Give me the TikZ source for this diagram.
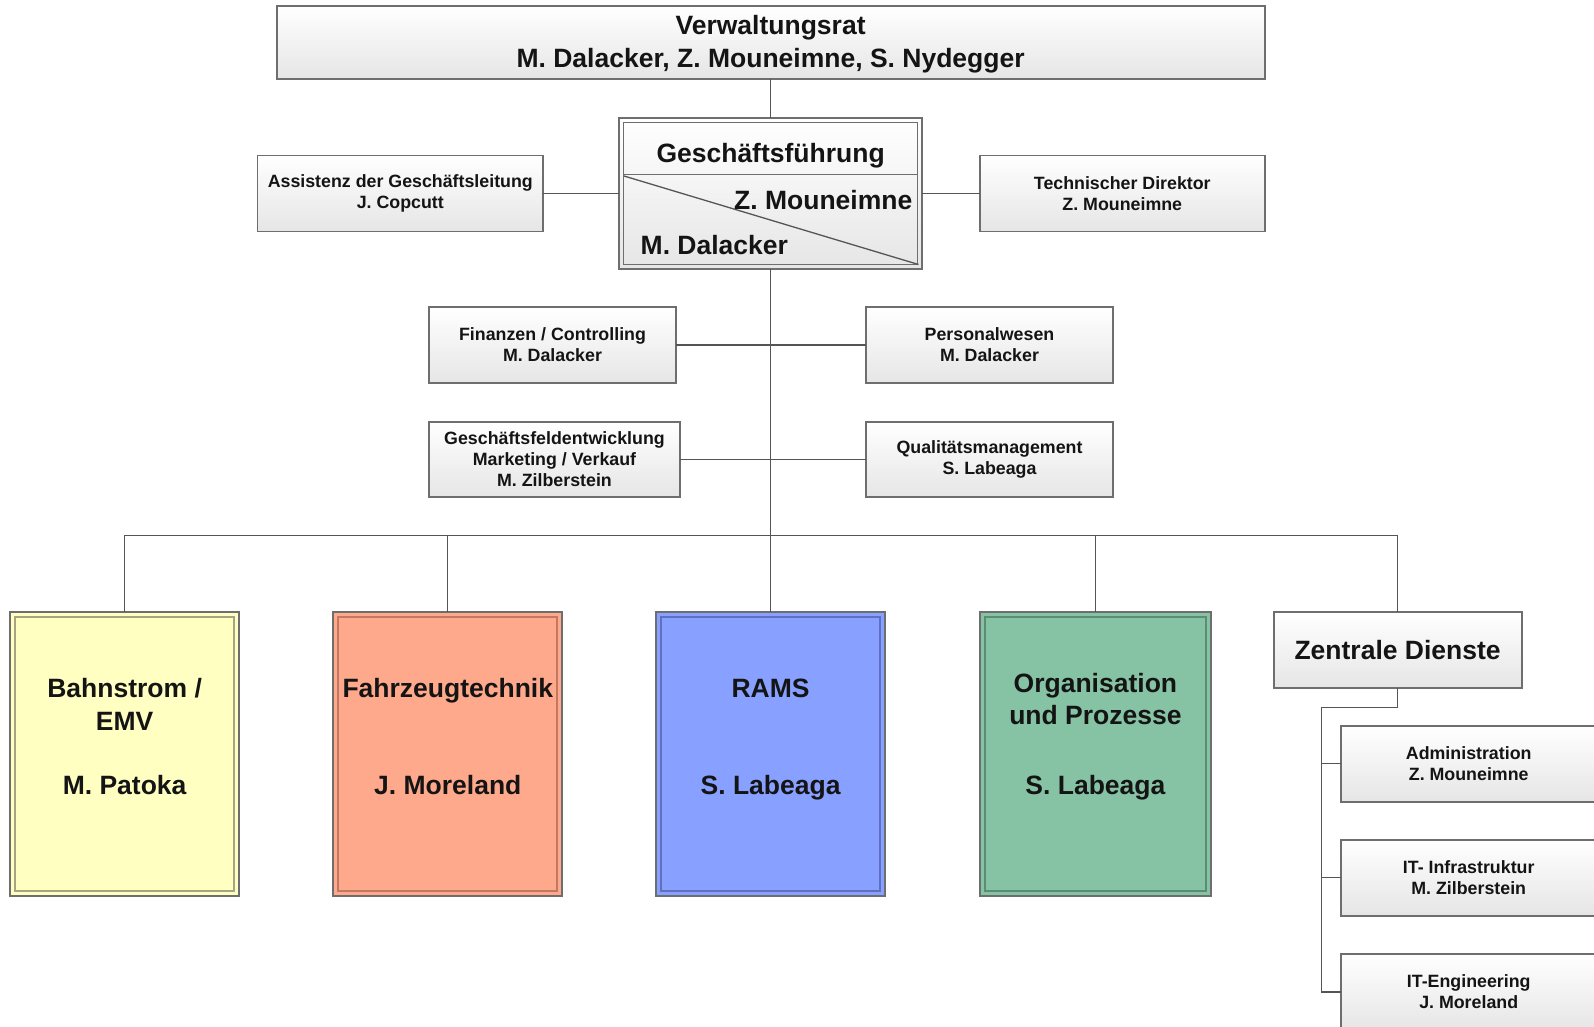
\documentclass[tikz,border=0pt]{standalone}
\usepackage{fontspec}
\setmainfont{Liberation Sans}
\definecolor{bordergray}{RGB}{110,110,110}
\definecolor{linegray}{RGB}{85,85,85}
\definecolor{txt}{RGB}{20,20,20}
\definecolor{yelfill}{RGB}{255,255,194}
\definecolor{yelline}{RGB}{165,165,130}
\definecolor{salfill}{RGB}{255,169,140}
\definecolor{salline}{RGB}{195,120,100}
\definecolor{blufill}{RGB}{136,160,255}
\definecolor{bluline}{RGB}{95,112,190}
\definecolor{grnfill}{RGB}{134,194,164}
\definecolor{grnline}{RGB}{92,140,115}
\newcommand\smallfnt{\fontsize{17.8}{21}\selectfont\bfseries}
\newcommand\bigfnt{\fontsize{26.5}{32.5}\selectfont\bfseries}
\begin{document}
\begin{tikzpicture}[x=1pt,y=-1pt,
  graybox/.style={draw=bordergray, line width=1.8pt, top color=white, bottom color=black!10,
    inner sep=0pt, outer sep=0pt, align=center, text=txt, font=\smallfnt},
  bigbox/.style={graybox, font=\bigfnt},
  colbox/.style={draw=bordergray, line width=1.8pt, inner sep=0pt, outer sep=0pt,
    minimum width=229pt, minimum height=284pt},
  innerline/.style={line width=1.8pt},
  bigtxt/.style={font=\bigfnt, text=txt, align=center, inner sep=0pt},
  conn/.style={draw=linegray, line width=1.3pt}]
\useasboundingbox (0,0) rectangle (1594,1027);

% top
\node[bigbox, minimum width=988pt, minimum height=73pt] (VR) at (770.6,42.6) {};
\node[bigtxt] (VRt) at (770.6,44.2) {Verwaltungsrat\\M. Dalacker, Z. Mouneimne, S. Nydegger};

% Geschaeftsfuehrung
\node[graybox, minimum width=303pt, minimum height=151pt] (GF) at (770.6,193.5) {};
\draw[draw=bordergray, line width=1.5pt] ([shift={(4.5,4.5)}]GF.north west) rectangle ([shift={(-4.5,-4.5)}]GF.south east);
\draw[draw=bordergray, line width=1.5pt] ([shift={(4.5,0)}]GF.north west |- 0,174.5) -- ([shift={(-4.5,0)}]GF.north east |- 0,174.5);
\draw[draw=linegray, line width=1.3pt] (624,176) -- (918.5,264.5);
\node[bigtxt, anchor=base] (GFt) at (770.6,162.5) {Geschäftsführung};
\node[bigtxt, anchor=base east] (GFz) at (912.5,209.5) {Z. Mouneimne};
\node[bigtxt, anchor=base west] (GFm) at (640.5,254.5) {M. Dalacker};

\node[graybox, minimum width=285.5pt, minimum height=76pt] (AS) at (400.3,193.5)
  {Assistenz der Geschäftsleitung\\J. Copcutt};
\node[graybox, minimum width=284.6pt, minimum height=76pt] (TD) at (1122.3,193.5)
  {Technischer Direktor\\Z. Mouneimne};

\node[graybox, minimum width=247pt, minimum height=76pt] (FI) at (552.5,345)
  {Finanzen / Controlling\\M. Dalacker};
\node[graybox, minimum width=247pt, minimum height=76pt] (PW) at (989.5,345)
  {Personalwesen\\M. Dalacker};
\node[graybox, minimum width=251pt, minimum height=75pt] (GE) at (554.5,459.5)
  {Geschäftsfeldentwicklung\\Marketing / Verkauf\\M. Zilberstein};
\node[graybox, minimum width=247pt, minimum height=75pt] (QM) at (989.5,459.5)
  {Qualitätsmanagement\\S. Labeaga};

% coloured boxes
\node[colbox, fill=yelfill] (BS) at (124.6,754.3) {};
\draw[innerline, draw=yelline] ([shift={(5,5)}]BS.north west) rectangle ([shift={(-5,-5)}]BS.south east);
\node[bigtxt] (BSa) at (124.6,704.5) {Bahnstrom /\\EMV};
\node[bigtxt, anchor=base] (BSb) at (124.6,794.5) {M. Patoka};

\node[colbox, fill=salfill] (FZ) at (447.8,754.3) {};
\draw[innerline, draw=salline] ([shift={(5,5)}]FZ.north west) rectangle ([shift={(-5,-5)}]FZ.south east);
\node[bigtxt, anchor=base] (FZa) at (447.8,697.5) {Fahrzeugtechnik};
\node[bigtxt, anchor=base] (FZb) at (447.8,794.5) {J. Moreland};

\node[colbox, fill=blufill] (RA) at (770.6,754.3) {};
\draw[innerline, draw=bluline] ([shift={(5,5)}]RA.north west) rectangle ([shift={(-5,-5)}]RA.south east);
\node[bigtxt, anchor=base] (RAa) at (770.6,697.5) {RAMS};
\node[bigtxt, anchor=base] (RAb) at (770.6,794.5) {S. Labeaga};

\node[colbox, fill=grnfill, minimum width=231pt] (OP) at (1095.4,754.3) {};
\draw[innerline, draw=grnline] ([shift={(5,5)}]OP.north west) rectangle ([shift={(-5,-5)}]OP.south east);
\node[bigtxt] (OPa) at (1095.4,699) {Organisation\\und Prozesse};
\node[bigtxt, anchor=base] (OPb) at (1095.4,794.5) {S. Labeaga};

% Zentrale Dienste
\node[bigbox, minimum width=248pt, minimum height=76pt] (ZD) at (1397.6,650.3) {};
\node[bigtxt, anchor=base] (ZDt) at (1397.6,659.5) {Zentrale Dienste};
\node[graybox, minimum width=256pt, minimum height=76pt] (AD) at (1468.7,763.8)
  {Administration\\Z. Mouneimne};
\node[graybox, minimum width=256pt, minimum height=76pt] (IT) at (1468.7,877.6)
  {IT- Infrastruktur\\M. Zilberstein};
\node[graybox, minimum width=256pt, minimum height=76pt] (IE) at (1468.7,992)
  {IT-Engineering\\J. Moreland};

% connectors
\draw[conn] (VR.south) -- (GF.north);
\draw[conn] (AS.east) -- (GF.west);
\draw[conn] (GF.east) -- (TD.west);
\coordinate (bus) at (770.6,535.8);
\draw[conn] (GF.south) -- (bus);
\draw[conn] (FI.east) -- (PW.west);
\draw[conn] (GE.east) -- (QM.west);
\draw[conn] (BS.north) |- (bus) -| (ZD.north);
\draw[conn] (FZ.north) -- (FZ.north |- bus);
\draw[conn] (RA.north) -- (bus);
\draw[conn] (OP.north) -- (OP.north |- bus);
\coordinate (zdk) at (1321.7,707.3);
\draw[conn] (ZD.south) |- (zdk) -- (zdk |- IE.west) -- (IE.west);
\draw[conn] (zdk |- AD.west) -- (AD.west);
\draw[conn] (zdk |- IT.west) -- (IT.west);
\end{tikzpicture}
\end{document}
